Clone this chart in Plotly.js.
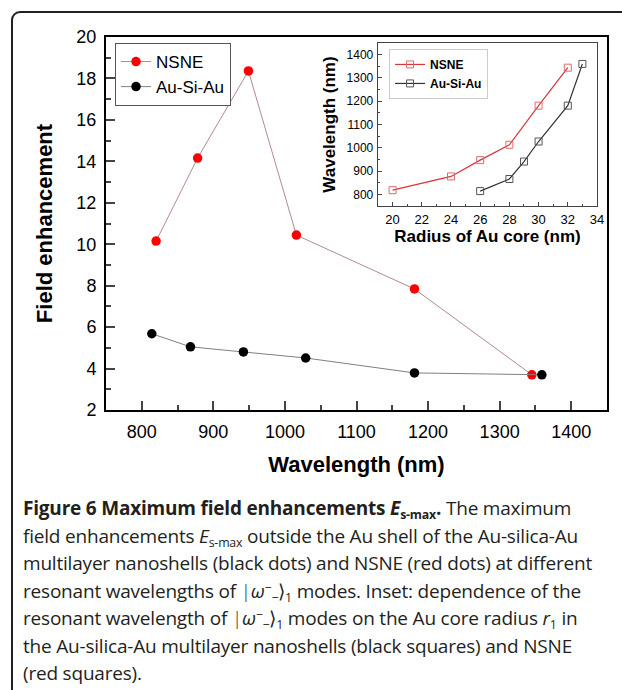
<!DOCTYPE html>
<html><head><meta charset="utf-8">
<script src="https://cdn.plot.ly/plotly-3.0.1.min.js"></script>
<style>
body{margin:0;background:#fff;width:622px;height:690px;overflow:hidden;position:relative;font-family:"Open Sans",sans-serif}
#chart{position:absolute;left:0;top:0;width:622px;height:490px}
#frame{position:absolute;left:11px;top:11px;width:700px;height:800px;border:2px solid #222;border-radius:9px;box-sizing:border-box;pointer-events:none}
#cap{position:absolute;left:23px;top:495px;font-size:19px;line-height:27.5px;color:#231f20;white-space:nowrap;letter-spacing:-0.2px}
#cap div{height:27.5px}
#cap sub{font-size:0.65em;vertical-align:-0.3em;line-height:0}
#cap sup{font-size:0.65em;vertical-align:0.45em;line-height:0}
#cap .bar{font-weight:300}
</style></head><body>
<div id="chart"></div>
<div id="cap">
<div><b>Figure 6 Maximum field enhancements <i>E</i><sub>s-max</sub>.</b> The maximum</div>
<div>field enhancements <i>E</i><sub>s-max</sub> outside the Au shell of the Au-silica-Au</div>
<div>multilayer nanoshells (black dots) and NSNE (red dots) at different</div>
<div>resonant wavelengths of <span class="bar">|</span><i>ω</i><sup>−</sup><sub>−</sub><span class="bar">⟩</span><sub>1</sub> modes. Inset: dependence of the</div>
<div>resonant wavelength of <span class="bar">|</span><i>ω</i><sup>−</sup><sub>−</sub><span class="bar">⟩</span><sub>1</sub> modes on the Au core radius <i>r</i><sub>1</sub> in</div>
<div>the Au-silica-Au multilayer nanoshells (black squares) and NSNE</div>
<div>(red squares).</div>
</div>
<div id="frame"></div>
<script>
// Main plot data
const nsneWavelength = [820, 878, 949, 1016, 1181, 1345];
const nsneEnhancement = [10.15, 14.16, 18.36, 10.44, 7.84, 3.7];
const ausiWavelength = [814, 868, 942, 1029, 1181, 1359];
const ausiEnhancement = [5.68, 5.05, 4.8, 4.51, 3.79, 3.7];
// Inset data
const nsneRadius = [20, 24, 26, 28, 30, 32];
const nsneInsetWavelength = [818, 877, 947, 1013, 1181, 1344];
const ausiRadius = [26, 28, 29, 30, 32, 33];
const ausiInsetWavelength = [814, 866, 941, 1027, 1181, 1360];
const seriesNames = ['NSNE', 'Au-Si-Au'];

const F = 'Arial, "Liberation Sans", sans-serif';

const traces = [
  {x: nsneWavelength, y: nsneEnhancement, name: seriesNames[0], mode: 'lines+markers',
   line: {color: '#b48a8a', width: 1}, marker: {color: '#ff0000', size: 9.5},
   xaxis: 'x', yaxis: 'y', legend: 'legend'},
  {x: ausiWavelength, y: ausiEnhancement, name: seriesNames[1], mode: 'lines+markers',
   line: {color: '#808080', width: 1}, marker: {color: '#000000', size: 9.5},
   xaxis: 'x', yaxis: 'y', legend: 'legend'},
  {x: nsneRadius, y: nsneInsetWavelength, name: seriesNames[0], mode: 'lines+markers',
   line: {color: '#d8343c', width: 1.2}, marker: {symbol: 'square-open', color: '#e06a6a', size: 7, line: {width: 1}},
   xaxis: 'x2', yaxis: 'y2', legend: 'legend2'},
  {x: ausiRadius, y: ausiInsetWavelength, name: seriesNames[1], mode: 'lines+markers',
   line: {color: '#333333', width: 1.2}, marker: {symbol: 'square-open', color: '#555555', size: 7, line: {width: 1}},
   xaxis: 'x2', yaxis: 'y2', legend: 'legend2'}
];

const layout = {
  width: 622, height: 490,
  margin: {l: 106, r: 15, t: 37, b: 80},
  paper_bgcolor: 'rgba(0,0,0,0)', plot_bgcolor: 'rgba(0,0,0,0)',
  font: {family: F, color: '#000'},
  showlegend: true,
  xaxis: {
    range: [750, 1450], tick0: 800, dtick: 100, ticks: 'inside', ticklen: 9, tickwidth: 2,
    minor: {ticks: 'inside', ticklen: 5, dtick: 50, tickwidth: 2, showgrid: false},
    showline: true, linewidth: 2, linecolor: '#000', mirror: true, showgrid: false, zeroline: false,
    tickfont: {size: 18, family: F}, ticklabelstandoff: 4,
    title: {text: 'Wavelength (nm)', font: {size: 22, family: F, weight: 'bold'}, standoff: 16}
  },
  yaxis: {
    range: [2, 20], tick0: 2, dtick: 2, ticks: 'inside', ticklen: 9, tickwidth: 2,
    minor: {ticks: 'inside', ticklen: 5, dtick: 1, tickwidth: 2, showgrid: false},
    showline: true, linewidth: 2, linecolor: '#000', mirror: true, showgrid: false, zeroline: false,
    tickfont: {size: 18, family: F}, ticklabelstandoff: 4,
    title: {text: 'Field enhancement', font: {size: 22, family: F, weight: 'bold'}, standoff: 18}
  },
  xaxis2: {
    anchor: 'y2', domain: [0.5429, 0.98], range: [19, 34], tick0: 20, dtick: 2,
    ticks: 'inside', ticklen: 4, tickwidth: 1,
    minor: {ticks: 'inside', ticklen: 2, dtick: 1, tickwidth: 1, showgrid: false},
    showline: true, linewidth: 1.3, linecolor: '#444', mirror: true, showgrid: false, zeroline: false,
    tickfont: {size: 13, family: F}, ticklabelstandoff: 1,
    title: {text: 'Radius of Au core (nm)', font: {size: 17, family: F, weight: 'bold'}, standoff: 4}
  },
  yaxis2: {
    anchor: 'x2', domain: [0.5469, 0.9839], range: [750, 1450], tick0: 800, dtick: 100,
    ticks: 'inside', ticklen: 4, tickwidth: 1,
    minor: {ticks: 'inside', ticklen: 2, dtick: 50, tickwidth: 1, showgrid: false},
    showline: true, linewidth: 1.3, linecolor: '#444', mirror: true, showgrid: false, zeroline: false,
    tickfont: {size: 12, family: F}, ticklabelstandoff: 1,
    title: {text: 'Wavelength (nm)', font: {size: 17, family: F, weight: 'bold'}, standoff: 6}
  },
  legend: {
    x: 0.018, y: 0.984, xanchor: 'left', yanchor: 'top',
    bgcolor: '#fff', bordercolor: '#555', borderwidth: 1,
    font: {size: 17, family: F}, tracegroupgap: 0, itemwidth: 30
  },
  legend2: {
    x: 0.565, y: 0.968, xanchor: 'left', yanchor: 'top',
    bgcolor: '#fff', bordercolor: '#ccc', borderwidth: 1,
    font: {size: 12, family: F, weight: 'bold'}, tracegroupgap: 0, itemwidth: 30
  }
};

Plotly.newPlot('chart', traces, layout, {displayModeBar: false, staticPlot: true});
</script>
</body></html>
